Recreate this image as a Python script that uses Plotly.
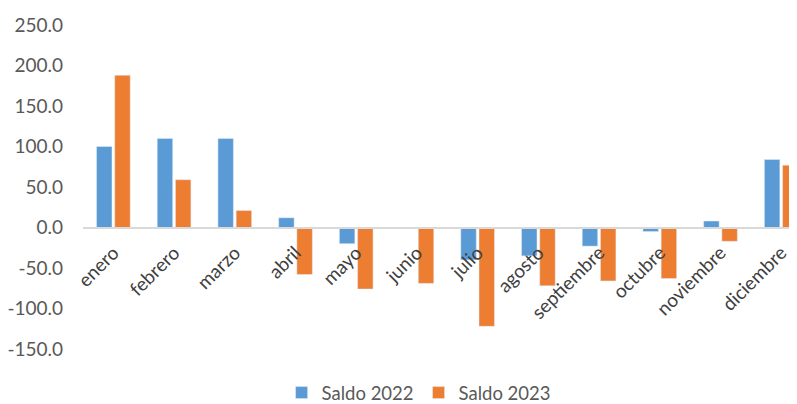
import plotly.graph_objects as go

months = ["enero", "febrero", "marzo", "abril", "mayo", "junio", "julio",
          "agosto", "septiembre", "octubre", "noviembre", "diciembre"]
saldo_2022 = [100, 110, 110, 12, -20, 0, -40, -35, -23, -5, 8, 84]
saldo_2023 = [188, 59, 21, -58, -76, -69, -122, -72, -66, -63, -17, 77]
ytick_vals = [-150, -100, -50, 0, 50, 100, 150, 200, 250]
ytick_text = ["-150.0", "-100.0", "-50.0", "0.0", "50.0", "100.0", "150.0", "200.0", "250.0"]

font_family = "Lato, 'Open Sans', sans-serif"
gray = "#595959"

fig = go.Figure()
fig.add_trace(go.Bar(x=months, y=saldo_2022, name="Saldo 2022", marker_color="#5B9BD5"))
fig.add_trace(go.Bar(x=months, y=saldo_2023, name="Saldo 2023", marker_color="#ED7D31"))

fig.update_layout(
    width=789, height=396,
    margin=dict(l=75, r=0, t=17, b=55, autoexpand=False),
    paper_bgcolor="white", plot_bgcolor="white",
    barmode="group", bargap=0.4, bargroupgap=0.15,
    font=dict(family=font_family, size=18, color=gray),
    showlegend=True,
    legend=dict(orientation="h", x=0.47, xanchor="center", y=-0.136, yanchor="middle",
                font=dict(size=18.5, color=gray), itemwidth=30),
    xaxis=dict(range=[-0.5, 11.26], anchor="free", position=0.375,
               showline=True, linecolor="#d9d9d9", linewidth=1.5,
               ticks="", tickangle=-45, tickfont=dict(size=19, color="#404040"),
               ticklabelstandoff=6,
               showgrid=False, zeroline=False, automargin=False),
    yaxis=dict(range=[-150, 250], tickvals=ytick_vals, ticktext=ytick_text,
               showgrid=False, zeroline=False, showline=False, automargin=False,
               tickfont=dict(size=19, color=gray), ticklabelstandoff=19),
)

fig.write_html("out.html")
